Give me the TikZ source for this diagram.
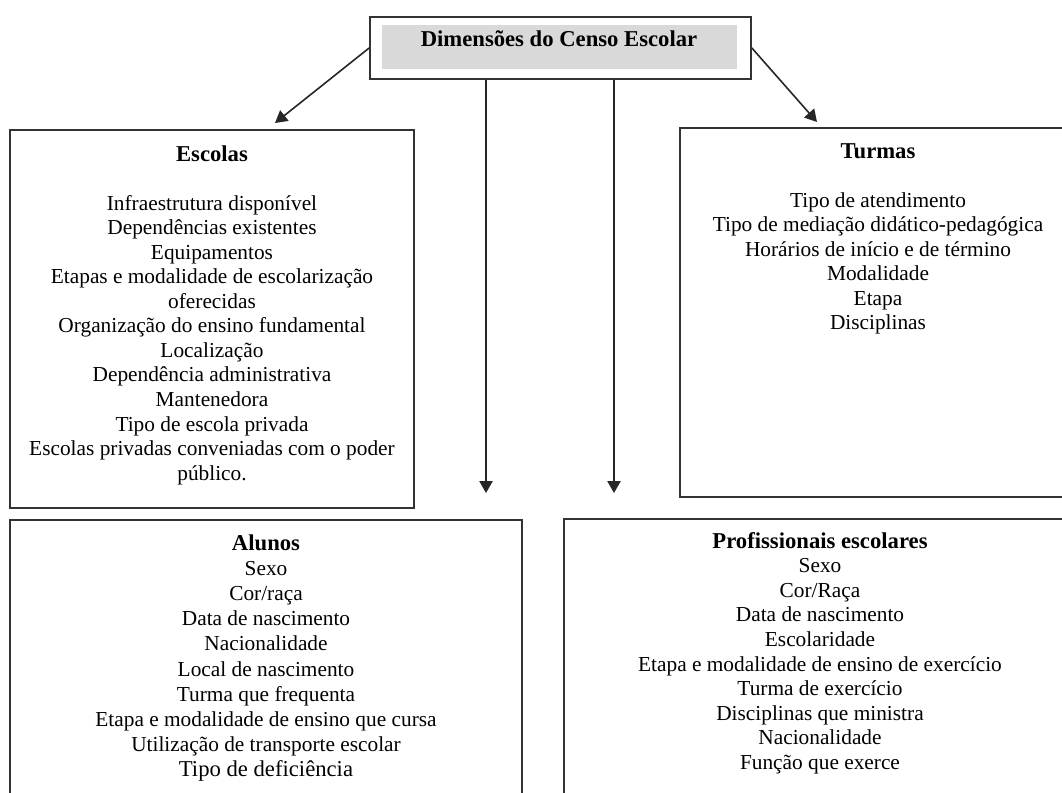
\documentclass[tikz,border=0pt]{standalone}
\usepackage{fontspec}
\setmainfont{Liberation Serif}
\usetikzlibrary{arrows.meta, positioning}
\newcommand{\boxhead}[1]{{\fontsize{17}{18.4}\selectfont\bfseries #1}}

\begin{document}
\begin{tikzpicture}[x=0.75pt, y=-0.75pt,
  box/.style = {draw=black!80, line width=1.3pt, inner sep=0pt},
  txt/.style = {align=center, inner sep=0pt, font=\fontsize{16}{18.4}\selectfont},
  arr/.style = {draw=black!85, line width=1.2pt, -{Triangle[length=9pt, width=10pt]}}]
\useasboundingbox (0,0) rectangle (1062,792);
\clip (0,0) rectangle (1062,792);
\node[box, minimum width=285.75pt, minimum height=46.5pt] (censo) at (560.5,48) {};
\node[fill=black!15, inner sep=0pt, minimum width=266.25pt, minimum height=33pt] (censobg) at (559.5,47) {};
\node[anchor=base, inner sep=0pt, font=\fontsize{17}{19}\selectfont\bfseries] (censotxt) at (559,47) {Dimensões do Censo Escolar};
\node[box, minimum width=303pt, minimum height=283.5pt] (escolas) at (212,319) {};
\node[box, minimum width=297pt, minimum height=276.75pt] (turmas) at (878,312.5) {};
\node[box, minimum width=384pt, minimum height=217.5pt] (alunos) at (266,665) {};
\node[box, minimum width=384pt, minimum height=218.25pt] (prof) at (820,664.5) {};
\node[txt, below=12pt of escolas.north] (escolastxt) {\boxhead{Escolas}\\[18.4pt]
  Infraestrutura disponível\\ Dependências existentes\\ Equipamentos\\
  Etapas e modalidade de escolarização\\ oferecidas\\ Organização do ensino fundamental\\
  Localização\\ Dependência administrativa\\ Mantenedora\\ Tipo de escola privada\\
  Escolas privadas conveniadas com o poder\\ público.};
\node[txt, below=12pt of turmas.north] (turmastxt) {\boxhead{Turmas}\\[18.4pt]
  Tipo de atendimento\\ Tipo de mediação didático-pedagógica\\ Horários de início e de término\\
  Modalidade\\ Etapa\\ Disciplinas};
\node[txt, font=\fontsize{16}{18.9}\selectfont, below=11.25pt of alunos.north] (alunostxt) {\boxhead{Alunos}\\
  Sexo\\ Cor/raça\\ Data de nascimento\\ Nacionalidade\\ Local de nascimento\\ Turma que frequenta\\
  Etapa e modalidade de ensino que cursa\\ Utilização de transporte escolar\\
  {\fontsize{17}{18.9}\selectfont Tipo de deficiência}};
\node[txt, below=10.5pt of prof.north] (proftxt) {\boxhead{Profissionais escolares}\\
  Sexo\\ Cor/Raça\\ Data de nascimento\\ Escolaridade\\ Etapa e modalidade de ensino de exercício\\
  Turma de exercício\\ Disciplinas que ministra\\ Nacionalidade\\ Função que exerce};
\coordinate (escolasin) at (275,123);
\coordinate (turmasin) at (817,122);
\coordinate (alunosin) at (486,493);
\coordinate (profin) at (614,493);
\draw[arr] (censo.west) -- (escolasin);
\draw[arr] (censo.east) -- (turmasin);
\draw[arr] (censo.south -| alunosin) -- (alunosin);
\draw[arr] (censo.south -| profin) -- (profin);
\end{tikzpicture}
\end{document}
